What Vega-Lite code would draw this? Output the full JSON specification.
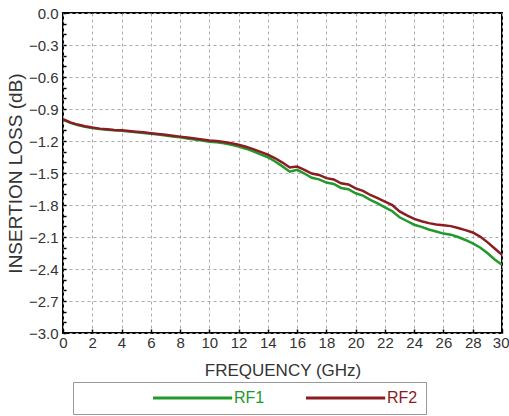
{
  "$schema": "https://vega.github.io/schema/vega-lite/v6.json",
  "width": 439,
  "height": 320,
  "autosize": "none",
  "padding": {"left": 63, "top": 13, "right": 7, "bottom": 83},
  "background": "white",
  "config": {
    "view": {"stroke": "black", "strokeWidth": 2},
    "font": "Liberation Sans",
    "axis": {
      "labelFont": "Liberation Sans",
      "titleFont": "Liberation Sans",
      "labelFontSize": 15,
      "titleFontWeight": "normal",
      "labelColor": "#333",
      "titleColor": "#333",
      "domain": false,
      "ticks": true,
      "tickColor": "black",
      "tickWidth": 1.5,
      "tickSize": -3,
      "labelOverlap": false,
      "grid": true,
      "gridColor": "#aaa",
      "gridDash": [3, 3],
      "gridWidth": 1
    }
  },
  "data": {
    "values": [
      {"f": 0, "loss": -1.000, "port": "RF1"},
      {"f": 0.5, "loss": -1.030, "port": "RF1"},
      {"f": 1, "loss": -1.050, "port": "RF1"},
      {"f": 1.5, "loss": -1.066, "port": "RF1"},
      {"f": 2, "loss": -1.078, "port": "RF1"},
      {"f": 2.5, "loss": -1.088, "port": "RF1"},
      {"f": 3, "loss": -1.094, "port": "RF1"},
      {"f": 3.5, "loss": -1.100, "port": "RF1"},
      {"f": 4, "loss": -1.104, "port": "RF1"},
      {"f": 4.5, "loss": -1.110, "port": "RF1"},
      {"f": 5, "loss": -1.118, "port": "RF1"},
      {"f": 5.5, "loss": -1.124, "port": "RF1"},
      {"f": 6, "loss": -1.132, "port": "RF1"},
      {"f": 6.5, "loss": -1.140, "port": "RF1"},
      {"f": 7, "loss": -1.148, "port": "RF1"},
      {"f": 7.5, "loss": -1.158, "port": "RF1"},
      {"f": 8, "loss": -1.166, "port": "RF1"},
      {"f": 8.5, "loss": -1.176, "port": "RF1"},
      {"f": 9, "loss": -1.186, "port": "RF1"},
      {"f": 9.5, "loss": -1.196, "port": "RF1"},
      {"f": 10, "loss": -1.206, "port": "RF1"},
      {"f": 10.5, "loss": -1.212, "port": "RF1"},
      {"f": 11, "loss": -1.222, "port": "RF1"},
      {"f": 11.5, "loss": -1.236, "port": "RF1"},
      {"f": 12, "loss": -1.252, "port": "RF1"},
      {"f": 12.5, "loss": -1.272, "port": "RF1"},
      {"f": 13, "loss": -1.296, "port": "RF1"},
      {"f": 13.5, "loss": -1.326, "port": "RF1"},
      {"f": 14, "loss": -1.352, "port": "RF1"},
      {"f": 14.5, "loss": -1.392, "port": "RF1"},
      {"f": 15, "loss": -1.438, "port": "RF1"},
      {"f": 15.5, "loss": -1.488, "port": "RF1"},
      {"f": 16, "loss": -1.470, "port": "RF1"},
      {"f": 16.5, "loss": -1.505, "port": "RF1"},
      {"f": 17, "loss": -1.545, "port": "RF1"},
      {"f": 17.5, "loss": -1.560, "port": "RF1"},
      {"f": 18, "loss": -1.590, "port": "RF1"},
      {"f": 18.5, "loss": -1.603, "port": "RF1"},
      {"f": 19, "loss": -1.640, "port": "RF1"},
      {"f": 19.5, "loss": -1.652, "port": "RF1"},
      {"f": 20, "loss": -1.690, "port": "RF1"},
      {"f": 20.5, "loss": -1.712, "port": "RF1"},
      {"f": 21, "loss": -1.752, "port": "RF1"},
      {"f": 21.5, "loss": -1.785, "port": "RF1"},
      {"f": 22, "loss": -1.822, "port": "RF1"},
      {"f": 22.5, "loss": -1.858, "port": "RF1"},
      {"f": 23, "loss": -1.915, "port": "RF1"},
      {"f": 23.5, "loss": -1.950, "port": "RF1"},
      {"f": 24, "loss": -1.985, "port": "RF1"},
      {"f": 24.5, "loss": -2.005, "port": "RF1"},
      {"f": 25, "loss": -2.030, "port": "RF1"},
      {"f": 25.5, "loss": -2.048, "port": "RF1"},
      {"f": 26, "loss": -2.068, "port": "RF1"},
      {"f": 26.5, "loss": -2.078, "port": "RF1"},
      {"f": 27, "loss": -2.100, "port": "RF1"},
      {"f": 27.5, "loss": -2.128, "port": "RF1"},
      {"f": 28, "loss": -2.160, "port": "RF1"},
      {"f": 28.5, "loss": -2.198, "port": "RF1"},
      {"f": 29, "loss": -2.250, "port": "RF1"},
      {"f": 29.5, "loss": -2.310, "port": "RF1"},
      {"f": 30, "loss": -2.360, "port": "RF1"},
      {"f": 0, "loss": -0.995, "port": "RF2"},
      {"f": 0.5, "loss": -1.025, "port": "RF2"},
      {"f": 1, "loss": -1.046, "port": "RF2"},
      {"f": 1.5, "loss": -1.062, "port": "RF2"},
      {"f": 2, "loss": -1.074, "port": "RF2"},
      {"f": 2.5, "loss": -1.084, "port": "RF2"},
      {"f": 3, "loss": -1.090, "port": "RF2"},
      {"f": 3.5, "loss": -1.096, "port": "RF2"},
      {"f": 4, "loss": -1.100, "port": "RF2"},
      {"f": 4.5, "loss": -1.106, "port": "RF2"},
      {"f": 5, "loss": -1.113, "port": "RF2"},
      {"f": 5.5, "loss": -1.119, "port": "RF2"},
      {"f": 6, "loss": -1.127, "port": "RF2"},
      {"f": 6.5, "loss": -1.134, "port": "RF2"},
      {"f": 7, "loss": -1.142, "port": "RF2"},
      {"f": 7.5, "loss": -1.151, "port": "RF2"},
      {"f": 8, "loss": -1.159, "port": "RF2"},
      {"f": 8.5, "loss": -1.168, "port": "RF2"},
      {"f": 9, "loss": -1.177, "port": "RF2"},
      {"f": 9.5, "loss": -1.186, "port": "RF2"},
      {"f": 10, "loss": -1.195, "port": "RF2"},
      {"f": 10.5, "loss": -1.201, "port": "RF2"},
      {"f": 11, "loss": -1.210, "port": "RF2"},
      {"f": 11.5, "loss": -1.222, "port": "RF2"},
      {"f": 12, "loss": -1.236, "port": "RF2"},
      {"f": 12.5, "loss": -1.254, "port": "RF2"},
      {"f": 13, "loss": -1.276, "port": "RF2"},
      {"f": 13.5, "loss": -1.302, "port": "RF2"},
      {"f": 14, "loss": -1.328, "port": "RF2"},
      {"f": 14.5, "loss": -1.362, "port": "RF2"},
      {"f": 15, "loss": -1.402, "port": "RF2"},
      {"f": 15.5, "loss": -1.448, "port": "RF2"},
      {"f": 16, "loss": -1.440, "port": "RF2"},
      {"f": 16.5, "loss": -1.470, "port": "RF2"},
      {"f": 17, "loss": -1.505, "port": "RF2"},
      {"f": 17.5, "loss": -1.518, "port": "RF2"},
      {"f": 18, "loss": -1.548, "port": "RF2"},
      {"f": 18.5, "loss": -1.560, "port": "RF2"},
      {"f": 19, "loss": -1.596, "port": "RF2"},
      {"f": 19.5, "loss": -1.608, "port": "RF2"},
      {"f": 20, "loss": -1.645, "port": "RF2"},
      {"f": 20.5, "loss": -1.668, "port": "RF2"},
      {"f": 21, "loss": -1.706, "port": "RF2"},
      {"f": 21.5, "loss": -1.736, "port": "RF2"},
      {"f": 22, "loss": -1.768, "port": "RF2"},
      {"f": 22.5, "loss": -1.800, "port": "RF2"},
      {"f": 23, "loss": -1.860, "port": "RF2"},
      {"f": 23.5, "loss": -1.898, "port": "RF2"},
      {"f": 24, "loss": -1.930, "port": "RF2"},
      {"f": 24.5, "loss": -1.952, "port": "RF2"},
      {"f": 25, "loss": -1.970, "port": "RF2"},
      {"f": 25.5, "loss": -1.982, "port": "RF2"},
      {"f": 26, "loss": -1.990, "port": "RF2"},
      {"f": 26.5, "loss": -1.998, "port": "RF2"},
      {"f": 27, "loss": -2.016, "port": "RF2"},
      {"f": 27.5, "loss": -2.036, "port": "RF2"},
      {"f": 28, "loss": -2.058, "port": "RF2"},
      {"f": 28.5, "loss": -2.096, "port": "RF2"},
      {"f": 29, "loss": -2.148, "port": "RF2"},
      {"f": 29.5, "loss": -2.208, "port": "RF2"},
      {"f": 30, "loss": -2.268, "port": "RF2"}
    ]
  },
  "mark": {"type": "line", "strokeWidth": 2.5, "clip": true},
  "encoding": {
    "x": {
      "field": "f",
      "type": "quantitative",
      "scale": {"domain": [0, 30], "nice": false, "zero": false},
      "axis": {
        "values": [0,2,4,6,8,10,12,14,16,18,20,22,24,26,28,30],
        "title": "FREQUENCY (GHz)",
        "titleFontSize": 17,
        "tickSize": -4,
        "labelPadding": 6,
        "titlePadding": 12,
        "labelFlush": false,
        "labelAlign": {"expr": "datum.value == 30 ? 'right' : 'center'"},
        "labelOffset": {"expr": "datum.value == 30 ? 7 : 0"}
      }
    },
    "y": {
      "field": "loss",
      "type": "quantitative",
      "scale": {"domain": [-3, 0], "nice": false, "zero": false},
      "axis": {
        "values": [0,-0.1,-0.2,-0.3,-0.4,-0.5,-0.6,-0.7,-0.8,-0.9,-1.0,-1.1,-1.2,-1.3,-1.4,-1.5,-1.6,-1.7,-1.8,-1.9,-2.0,-2.1,-2.2,-2.3,-2.4,-2.5,-2.6,-2.7,-2.8,-2.9,-3.0],
        "labelExpr": "abs(round(datum.value*10)) % 3 == 0 ? format(datum.value, '.1f') : ''",
        "gridOpacity": {"condition": {"test": "abs(round(datum.value*10)) % 3 == 0", "value": 1}, "value": 0},
        "title": "INSERTION LOSS (dB)",
        "titleFontSize": 19,
        "labelPadding": 8,
        "titlePadding": 3,
        "labelFlush": false
      }
    },
    "color": {
      "field": "port",
      "type": "nominal",
      "scale": {"domain": ["RF1", "RF2"], "range": ["#22992a", "#8c1c24"]},
      "legend": {
        "title": null,
        "orient": "none",
        "legendX": 10,
        "legendY": 369,
        "direction": "horizontal",
        "gridAlign": "all",
        "padding": 8,
        "strokeColor": "#999",
        "fillColor": "white",
        "symbolType": "M0,0H17.6",
        "symbolSize": 81,
        "symbolStrokeWidth": 3,
        "symbolFillColor": "transparent",
        "symbolOffset": {"expr": "datum.label == 'RF1' ? 64 : 0"},
        "labelOffset": {"expr": "datum.label == 'RF1' ? 73 : 73"},
        "columnPadding": 33,
        "labelFont": "Liberation Sans",
        "labelFontSize": 16,
        "labelColor": {"expr": "datum.label == 'RF1' ? '#22992a' : '#8c1c24'"}
      }
    }
  }
}
